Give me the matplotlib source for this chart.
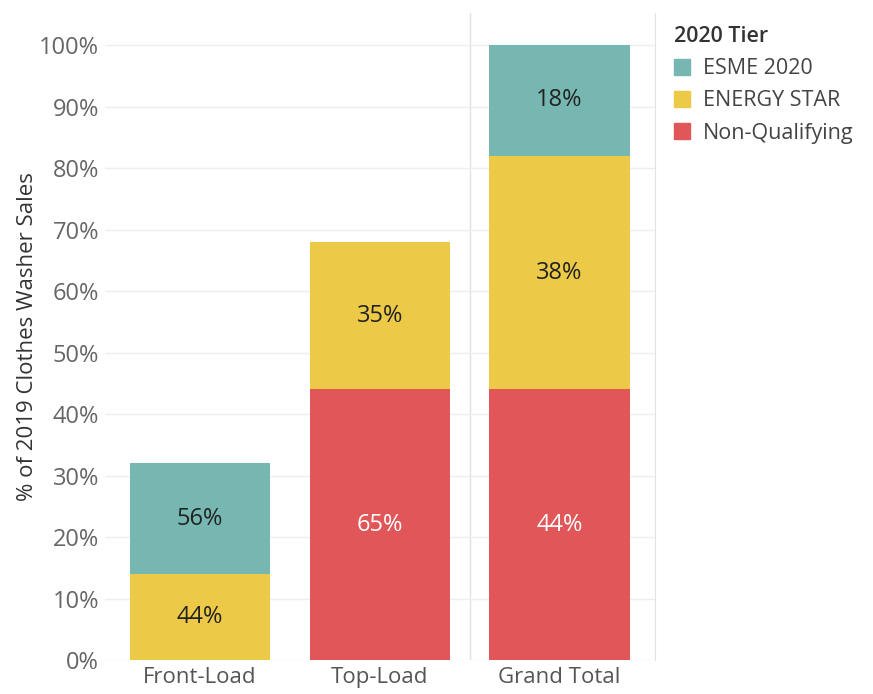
import numpy as np
import matplotlib
matplotlib.use("Agg")
import matplotlib.pyplot as plt
from matplotlib.patches import Patch

plt.rcParams['font.family'] = ['Open Sans', 'DejaVu Sans']

# données (% des ventes 2019)
categories = ["Front-Load", "Top-Load", "Grand Total"]
tiers = ["Non-Qualifying", "ENERGY STAR", "ESME 2020"]
non_qualifying = [0, 44, 44]
energy_star = [14, 24, 38]
esme_2020 = [18, 0, 18]
yticks = [0, 10, 20, 30, 40, 50, 60, 70, 80, 90, 100]

colors = {"ESME 2020": "#76B7B2", "ENERGY STAR": "#EDC948", "Non-Qualifying": "#E15759"}
label_colors = {"ESME 2020": "#222222", "ENERGY STAR": "#222222", "Non-Qualifying": "white"}

fig = plt.figure(figsize=(8.73, 6.94), dpi=100)
ax = fig.add_axes([0.120, 0.049, 0.630, 0.932])

x = np.arange(len(categories))
series = [non_qualifying, energy_star, esme_2020]
totals = np.sum(series, axis=0)
bottom = np.zeros(len(categories))
for name, vals in zip(tiers, series):
    vals = np.array(vals, dtype=float)
    ax.bar(x, vals, bottom=bottom, width=0.78, color=colors[name], zorder=2)
    for i, v in enumerate(vals):
        if v > 0:
            pct = round(100 * v / totals[i])
            ax.text(x[i], bottom[i] + v / 2, f"{pct}%", ha='center', va='center',
                    fontsize=17, color=label_colors[name], zorder=3)
    bottom += vals

ax.set_xlim(-0.53, 2.53)
ax.set_ylim(0, 105.2)
ax.set_yticks(yticks)
ax.set_yticklabels([f"{t}%" for t in yticks])
ax.set_xticks(x)
ax.set_xticklabels(categories)
ax.tick_params(axis='y', length=0, labelsize=17, labelcolor='#666666', pad=4)
ax.tick_params(axis='x', length=0, labelsize=16, labelcolor='#555555', pad=5)
ax.grid(axis='y', color='#eeeeee', lw=1, zorder=0)
for s in ['top', 'left', 'bottom']:
    ax.spines[s].set_visible(False)
ax.spines['right'].set_color('#e2e2e2')
ax.axvline(1.5, color='#e2e2e2', lw=1, zorder=1)
ax.set_ylabel("% of 2019 Clothes Washer Sales", fontsize=16, color='#333333', labelpad=1)

handles = [Patch(color=colors[t]) for t in ["ESME 2020", "ENERGY STAR", "Non-Qualifying"]]
leg = fig.legend(handles, ["ESME 2020", "ENERGY STAR", "Non-Qualifying"],
                 title="2020 Tier", loc='upper left', bbox_to_anchor=(0.762, 0.975),
                 frameon=False, fontsize=15.5, title_fontsize=15.5,
                 handlelength=0.75, handleheight=0.75, handletextpad=0.6,
                 labelspacing=0.52, borderaxespad=0)
leg.get_title().set_fontweight('semibold')
leg.get_title().set_color('#333333')
leg._legend_box.align = "left"
for t in leg.get_texts():
    t.set_color('#444444')

fig.savefig("out.png", dpi=100)
